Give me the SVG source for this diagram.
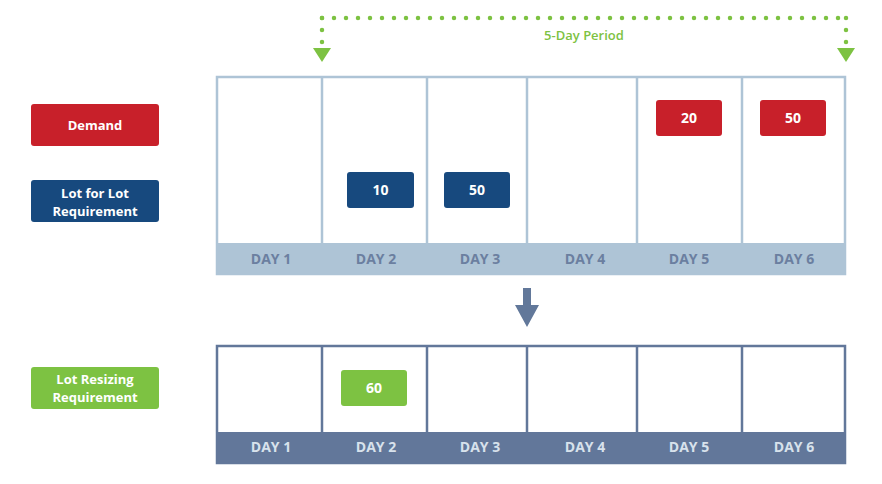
<svg xmlns="http://www.w3.org/2000/svg" width="882" height="484" viewBox="0 0 882 484">
<style>
text{font-family:"Open Sans",Lato,"Liberation Sans",sans-serif;font-weight:bold;text-anchor:middle}
.lbl{fill:#fff;font-size:13px}
.num{fill:#fff;font-size:14px}
.dayT{fill:#6b7fa0;font-size:14px}
.dayB{fill:#d8e2ec;font-size:14px}
.red{fill:#c8202a}
.blue{fill:#17497e}
.green{fill:#7dc242}
.dot{fill:none;stroke:#7dc242;stroke-width:4.5;stroke-linecap:round;stroke-dasharray:0 12}
</style>
<rect width="882" height="484" fill="#fff"/>
<g id="top-table">
<rect x="217" y="77" width="628" height="197" fill="#fff" stroke="#aec4d6" stroke-width="2.5"/>
<rect x="216" y="243" width="630" height="32" fill="#aec4d6"/>
<g stroke="#aec4d6" stroke-width="2.5">
<line x1="322" y1="77" x2="322" y2="243"/><line x1="427" y1="77" x2="427" y2="243"/><line x1="527" y1="77" x2="527" y2="243"/><line x1="637" y1="77" x2="637" y2="243"/><line x1="742" y1="77" x2="742" y2="243"/>
</g>
<text class="dayT" x="271" y="264">DAY 1</text><text class="dayT" x="376" y="264">DAY 2</text><text class="dayT" x="480" y="264">DAY 3</text><text class="dayT" x="585" y="264">DAY 4</text><text class="dayT" x="689" y="264">DAY 5</text><text class="dayT" x="794" y="264">DAY 6</text>
</g>
<g id="bottom-table">
<rect x="217" y="346" width="628" height="117" fill="#fff" stroke="#62779a" stroke-width="2.5"/>
<rect x="216" y="432" width="630" height="32" fill="#62779a"/>
<g stroke="#62779a" stroke-width="2.5">
<line x1="322" y1="346" x2="322" y2="432"/><line x1="427" y1="346" x2="427" y2="432"/><line x1="527" y1="346" x2="527" y2="432"/><line x1="637" y1="346" x2="637" y2="432"/><line x1="742" y1="346" x2="742" y2="432"/>
</g>
<text class="dayB" x="271" y="452">DAY 1</text><text class="dayB" x="376" y="452">DAY 2</text><text class="dayB" x="480" y="452">DAY 3</text><text class="dayB" x="585" y="452">DAY 4</text><text class="dayB" x="689" y="452">DAY 5</text><text class="dayB" x="794" y="452">DAY 6</text>
</g>
<g id="legend-demand"><rect class="red" x="31" y="104" width="128" height="42" rx="3"/><text class="lbl" x="95" y="129.5">Demand</text></g>
<g id="legend-lfl"><rect class="blue" x="31" y="180" width="128" height="42" rx="3"/><text class="lbl" x="95" y="198">Lot for Lot</text><text class="lbl" x="95" y="215.5">Requirement</text></g>
<g id="legend-resize"><rect class="green" x="31" y="367" width="128" height="42" rx="3"/><text class="lbl" x="95" y="384">Lot Resizing</text><text class="lbl" x="95" y="401.5">Requirement</text></g>
<g id="v10"><rect class="blue" x="347" y="172" width="67" height="36" rx="3"/><text class="num" x="380.5" y="195">10</text></g>
<g id="v50a"><rect class="blue" x="444" y="172" width="66" height="36" rx="3"/><text class="num" x="477" y="195">50</text></g>
<g id="v20"><rect class="red" x="656" y="100" width="66" height="36" rx="3"/><text class="num" x="689" y="123">20</text></g>
<g id="v50b"><rect class="red" x="760" y="100" width="66" height="36" rx="3"/><text class="num" x="793" y="123">50</text></g>
<g id="v60"><rect class="green" x="341" y="370" width="66" height="36" rx="3"/><text class="num" x="374" y="393">60</text></g>
<g id="connectors">
<path class="dot" d="M322 18 H846"/>
<path class="dot" d="M322 18 V43"/>
<path class="dot" d="M846 18 V43"/>
<polygon points="313,48 331,48 322,62" fill="#7dc242"/>
<polygon points="837,48 855,48 846,62" fill="#7dc242"/>
<text x="584" y="39.5" style="font-size:13px;fill:#7dc242;font-weight:600">5-Day Period</text>
<path d="M523 288 H531 V305 H539 L527 327 L515 305 H523 Z" fill="#62789a"/>
</g>
</svg>
